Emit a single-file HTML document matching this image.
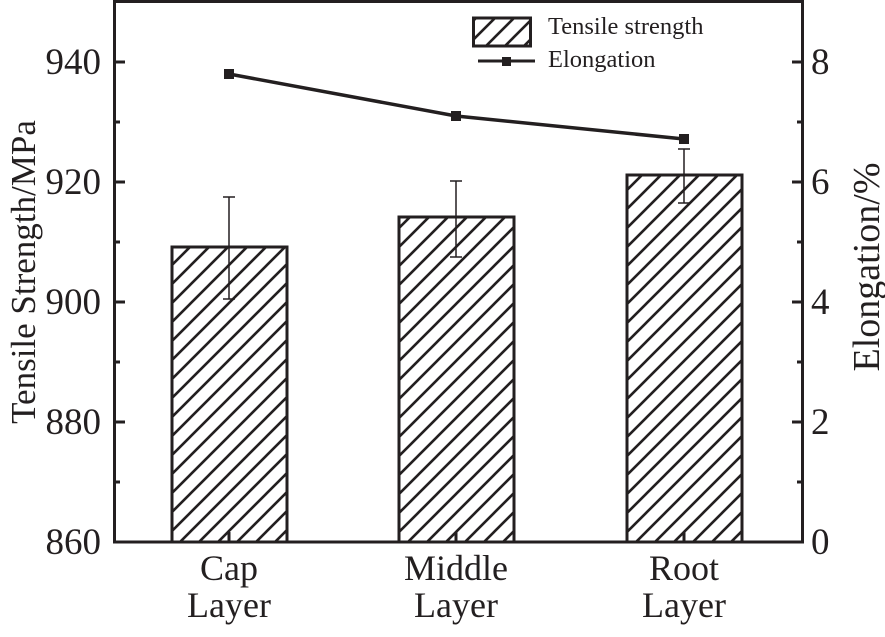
<!DOCTYPE html>
<html><head><style>body{margin:0;background:#fff}</style></head><body>
<svg width="885" height="632" viewBox="0 0 885 632" xmlns="http://www.w3.org/2000/svg" font-family="Liberation Serif, serif" fill="#231f20">
<defs>
<pattern id="h" patternUnits="userSpaceOnUse" width="19" height="19">
<path d="M-2,21 L21,-2 M-2,2 L2,-2 M17,21 L21,17" stroke="#231f20" stroke-width="2.6"/>
</pattern>
</defs>
<g stroke="#231f20" stroke-width="3" fill="url(#h)">
<rect x="172" y="247" width="115" height="295"/>
<rect x="399" y="217" width="115" height="325"/>
<rect x="627" y="175" width="115" height="367"/>
</g>
<g stroke="#231f20" stroke-width="1.5" fill="none">
<path d="M229,197V299M223,197H235M223,299H235"/>
<path d="M456,181V257M450,181H462M450,257H462"/>
<path d="M684,149V203M678,149H690M678,203H690"/>
</g>
<polyline points="229,74 456,116 684,139" fill="none" stroke="#231f20" stroke-width="3.5"/>
<rect x="224" y="69" width="10" height="10"/><rect x="451" y="111" width="10" height="10"/><rect x="679" y="134" width="10" height="10"/>
<rect x="114.5" y="1.5" width="688" height="540.5" fill="none" stroke="#231f20" stroke-width="3"/>
<g stroke="#231f20" stroke-width="3">
<path d="M114,62H125M114,182H125M114,302H125M114,422H125M114,122H120M114,242H120M114,362H120M114,482H120"/>
<path d="M803,62H792M803,182H792M803,302H792M803,422H792M803,122H797M803,242H797M803,362H797M803,482H797"/>
<path d="M229,542V532M456,542V532M684,542V532"/>
</g>
<g font-size="37" text-anchor="end">
<text x="101" y="74">940</text><text x="101" y="194">920</text><text x="101" y="314">900</text><text x="101" y="434">880</text><text x="101" y="554">860</text>
</g>
<g font-size="37">
<text x="811" y="74">8</text><text x="811" y="194">6</text><text x="811" y="314">4</text><text x="811" y="434">2</text><text x="811" y="554">0</text>
</g>
<g font-size="36" text-anchor="middle">
<text x="229" y="580">Cap</text><text x="229" y="617">Layer</text>
<text x="456" y="580">Middle</text><text x="456" y="617">Layer</text>
<text x="684" y="580">Root</text><text x="684" y="617">Layer</text>
</g>
<text font-size="35" text-anchor="middle" transform="translate(35,272) rotate(-90)">Tensile Strength/MPa</text>
<text font-size="38" text-anchor="middle" transform="translate(879,267) rotate(-90)">Elongation/%</text>
<rect x="473.5" y="18" width="57" height="28" fill="url(#h)" stroke="#231f20" stroke-width="3"/>
<path d="M478,61H535" stroke="#231f20" stroke-width="3"/>
<rect x="502" y="57" width="9" height="9"/>
<text x="548" y="34" font-size="24.5">Tensile strength</text>
<text x="548" y="67" font-size="24.5">Elongation</text>
</svg>
</body></html>
